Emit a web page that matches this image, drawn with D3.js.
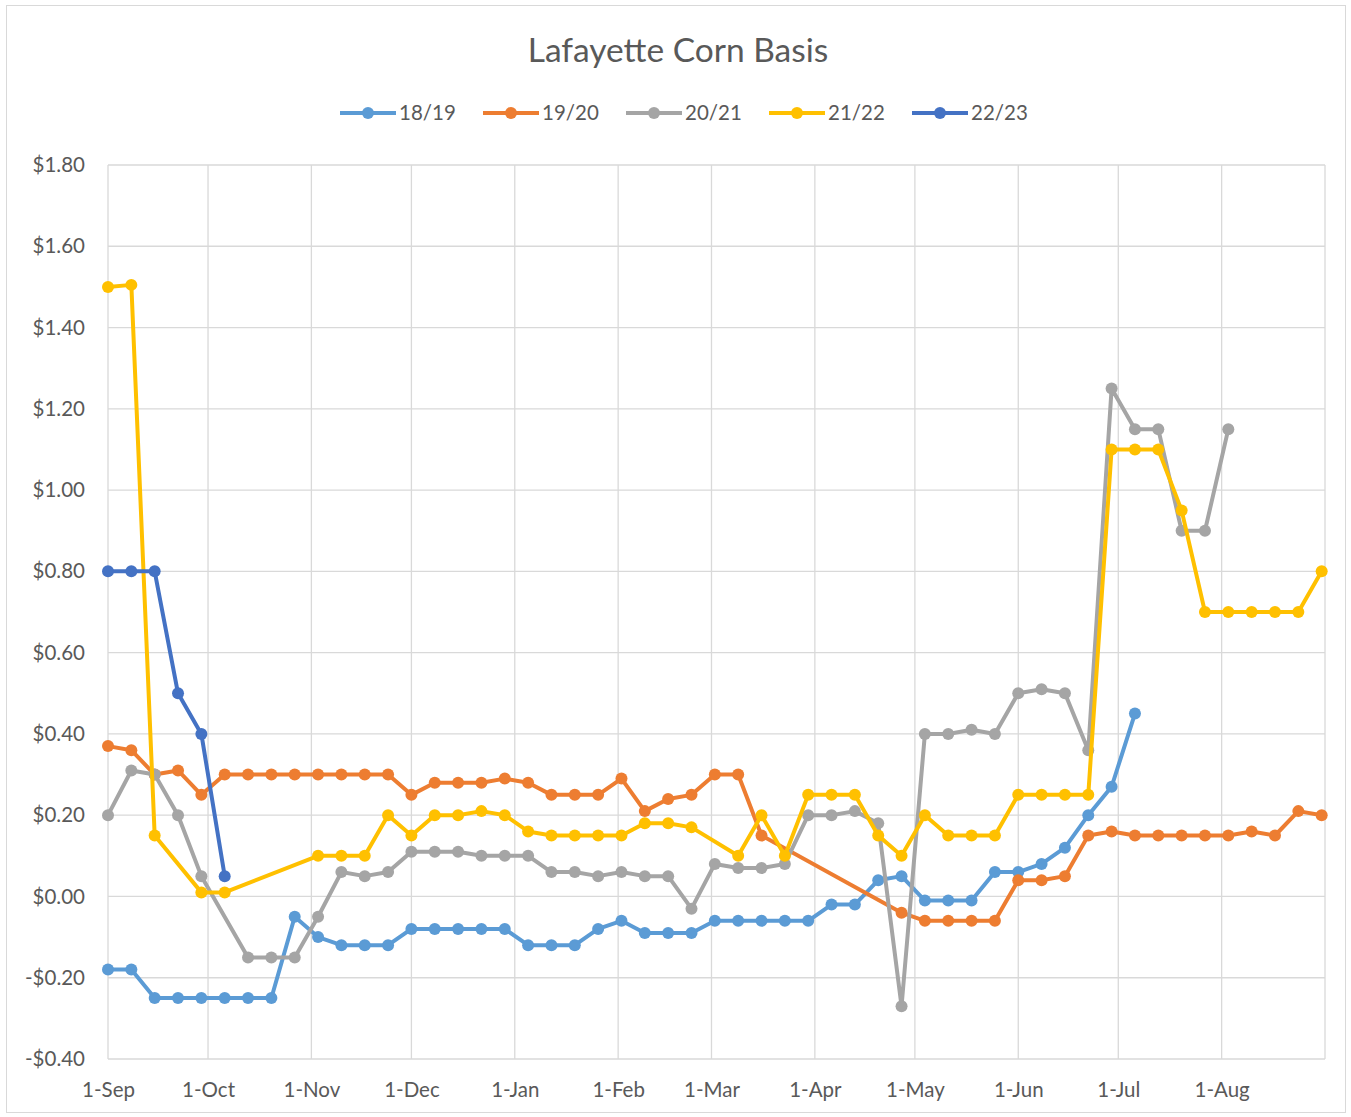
<!DOCTYPE html>
<html>
<head>
<meta charset="utf-8">
<script src="https://cdn.jsdelivr.net/npm/d3@7"></script>
<style>
  body { margin: 0; background: #fff; }
  text { font-family: Lato, "Open Sans", sans-serif; fill: #595959; }
</style>
</head>
<body>
<div id="chart"></div>
<script>
// weekly dates, Sep -> Aug (year only used to place them on a time scale)
const weeks = [
  "2021-09-01","2021-09-08","2021-09-15","2021-09-22","2021-09-29",
  "2021-10-06","2021-10-13","2021-10-20","2021-10-27",
  "2021-11-03","2021-11-10","2021-11-17","2021-11-24",
  "2021-12-01","2021-12-08","2021-12-15","2021-12-22","2021-12-29",
  "2022-01-05","2022-01-12","2022-01-19","2022-01-26",
  "2022-02-02","2022-02-09","2022-02-16","2022-02-23",
  "2022-03-02","2022-03-09","2022-03-16","2022-03-23","2022-03-30",
  "2022-04-06","2022-04-13","2022-04-20","2022-04-27",
  "2022-05-04","2022-05-11","2022-05-18","2022-05-25",
  "2022-06-01","2022-06-08","2022-06-15","2022-06-22","2022-06-29",
  "2022-07-06","2022-07-13","2022-07-20","2022-07-27",
  "2022-08-03","2022-08-10","2022-08-17","2022-08-24","2022-08-31"
];

const seriesNames = ["18/19", "19/20", "20/21", "21/22", "22/23"];
const seriesColors = ["#5B9BD5", "#ED7D31", "#A5A5A5", "#FFC000", "#4472C4"];

// null = no reading that week (line connects across the gap)
const basis1819 = [-0.18,-0.18,-0.25,-0.25,-0.25,-0.25,-0.25,-0.25,-0.05,-0.10,
  -0.12,-0.12,-0.12,-0.08,-0.08,-0.08,-0.08,-0.08,-0.12,-0.12,
  -0.12,-0.08,-0.06,-0.09,-0.09,-0.09,-0.06,-0.06,-0.06,-0.06,
  -0.06,-0.02,-0.02,0.04,0.05,-0.01,-0.01,-0.01,0.06,0.06,
  0.08,0.12,0.20,0.27,0.45];
const basis1920 = [0.37,0.36,0.30,0.31,0.25,0.30,0.30,0.30,0.30,0.30,
  0.30,0.30,0.30,0.25,0.28,0.28,0.28,0.29,0.28,0.25,
  0.25,0.25,0.29,0.21,0.24,0.25,0.30,0.30,0.15,null,
  null,null,null,null,-0.04,-0.06,-0.06,-0.06,-0.06,0.04,
  0.04,0.05,0.15,0.16,0.15,0.15,0.15,0.15,0.15,0.16,
  0.15,0.21,0.20];
const basis2021 = [0.20,0.31,0.30,0.20,0.05,null,-0.15,-0.15,-0.15,-0.05,
  0.06,0.05,0.06,0.11,0.11,0.11,0.10,0.10,0.10,0.06,
  0.06,0.05,0.06,0.05,0.05,-0.03,0.08,0.07,0.07,0.08,
  0.20,0.20,0.21,0.18,-0.27,0.40,0.40,0.41,0.40,0.50,
  0.51,0.50,0.36,1.25,1.15,1.15,0.90,0.90,1.15];
const basis2122 = [1.50,1.505,0.15,null,0.01,0.01,null,null,null,0.10,
  0.10,0.10,0.20,0.15,0.20,0.20,0.21,0.20,0.16,0.15,
  0.15,0.15,0.15,0.18,0.18,0.17,null,0.10,0.20,0.10,
  0.25,0.25,0.25,0.15,0.10,0.20,0.15,0.15,0.15,0.25,
  0.25,0.25,0.25,1.10,1.10,1.10,0.95,0.70,0.70,0.70,
  0.70,0.70,0.80];
const basis2223 = [0.80,0.80,0.80,0.50,0.40,0.05];

const allSeries = [basis1819, basis1920, basis2021, basis2122, basis2223];

const yTicks = [1.80, 1.60, 1.40, 1.20, 1.00, 0.80, 0.60, 0.40, 0.20, 0.00, -0.20, -0.40];
const xTicks = ["2021-09-01","2021-10-01","2021-11-01","2021-12-01","2022-01-01","2022-02-01",
  "2022-03-01","2022-04-01","2022-05-01","2022-06-01","2022-07-01","2022-08-01"];

const width = 1351;
const height = 1117;
const margin = {top: 165, right: 26, bottom: 58, left: 108};
const labelSize = 20.5;

const parse = d3.utcParse("%Y-%m-%d");
const fmtDay = d3.utcFormat("%-d-%b");
const money = v => (v < 0 ? "-$" : "$") + Math.abs(v).toFixed(2);

const svg = d3.select("#chart").append("svg")
  .attr("width", width)
  .attr("height", height);

// chart frame
svg.append("rect")
  .attr("x", 6.5).attr("y", 5.5)
  .attr("width", 1339).attr("height", 1107)
  .attr("fill", "#fff")
  .attr("stroke", "#D9D9D9")
  .attr("stroke-width", 1);

const x = d3.scaleUtc()
  .domain([parse("2021-09-01"), parse("2022-09-01")])
  .range([margin.left, width - margin.right]);

const y = d3.scaleLinear()
  .domain([-0.40, 1.80])
  .range([height - margin.bottom, margin.top]);

// gridlines
const grid = svg.append("g").attr("stroke", "#D9D9D9").attr("stroke-width", 1.3);
grid.selectAll("line.h")
  .data(yTicks)
  .join("line")
    .attr("class", "h")
    .attr("x1", x.range()[0]).attr("x2", x.range()[1])
    .attr("y1", d => y(d)).attr("y2", d => y(d));
grid.selectAll("line.v")
  .data(xTicks.map(parse).concat([parse("2022-09-01")]))
  .join("line")
    .attr("class", "v")
    .attr("x1", d => x(d)).attr("x2", d => x(d))
    .attr("y1", y.range()[1]).attr("y2", y.range()[0]);

// y axis labels
const yAxis = svg.append("g")
  .attr("transform", `translate(${margin.left - 23},0)`)
  .call(d3.axisLeft(y).tickValues(yTicks).tickFormat(money).tickSize(0).tickPadding(0));
yAxis.select(".domain").remove();
yAxis.selectAll("text").attr("font-size", labelSize).attr("fill", "#595959")
  .style("font-family", "Lato, 'Open Sans', sans-serif");

// x axis labels
const xAxis = svg.append("g")
  .attr("transform", `translate(0,${y.range()[0] + 23})`)
  .call(d3.axisBottom(x).tickValues(xTicks.map(parse)).tickFormat(fmtDay).tickSize(0).tickPadding(0));
xAxis.select(".domain").remove();
xAxis.selectAll("text").attr("font-size", labelSize).attr("fill", "#595959")
  .style("font-family", "Lato, 'Open Sans', sans-serif");

// series
const line = d3.line()
  .x(d => x(d.date))
  .y(d => y(d.value));

allSeries.forEach((values, i) => {
  const pts = values
    .map((v, j) => ({date: parse(weeks[j]), value: v}))
    .filter(d => d.value !== null);
  const g = svg.append("g");
  g.append("path")
    .datum(pts)
    .attr("fill", "none")
    .attr("stroke", seriesColors[i])
    .attr("stroke-width", 4)
    .attr("stroke-linejoin", "round")
    .attr("d", line);
  g.selectAll("circle")
    .data(pts)
    .join("circle")
      .attr("cx", d => x(d.date))
      .attr("cy", d => y(d.value))
      .attr("r", 6)
      .attr("fill", seriesColors[i]);
});

// title
svg.append("text")
  .attr("x", 678).attr("y", 62)
  .attr("text-anchor", "middle")
  .attr("font-size", 33.5)
  .text("Lafayette Corn Basis");

// legend
const legend = svg.append("g")
  .selectAll("g")
  .data(seriesNames)
  .join("g")
    .attr("transform", (d, i) => `translate(${340 + i * 143},113)`);
legend.append("line")
  .attr("x1", 0).attr("x2", 56)
  .attr("stroke", (d, i) => seriesColors[i])
  .attr("stroke-width", 4);
legend.append("circle")
  .attr("cx", 28).attr("r", 6)
  .attr("fill", (d, i) => seriesColors[i]);
legend.append("text")
  .attr("x", 59).attr("dy", "0.35em")
  .attr("font-size", labelSize)
  .text(d => d);
</script>
</body>
</html>
